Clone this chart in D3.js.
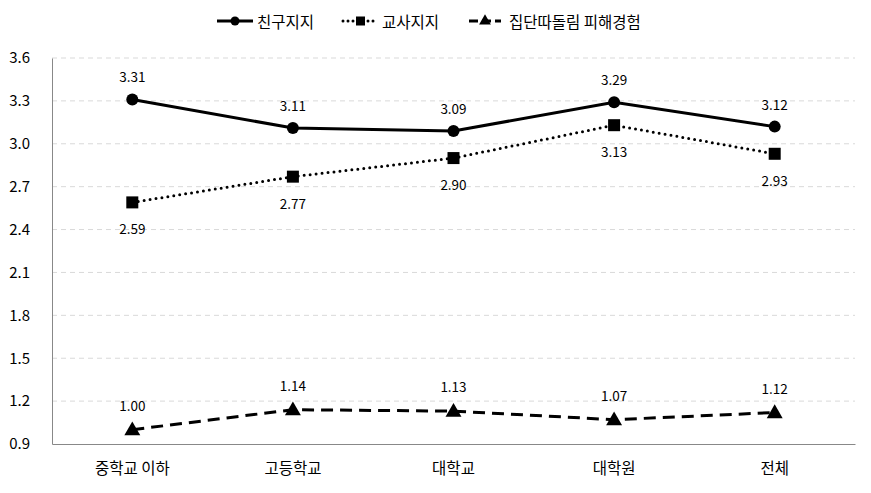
<!DOCTYPE html>
<html><head><meta charset="utf-8">
<script src="https://cdn.jsdelivr.net/npm/d3@7/dist/d3.min.js"></script>
<style>body{margin:0;background:#fff}svg{display:block}text{font-family:"Noto Sans CJK KR","Malgun Gothic",sans-serif;fill:#000}</style>
</head><body>
<script>
const categories = ["중학교 이하","고등학교","대학교","대학원","전체"];
const friendSupport = [3.31,3.11,3.09,3.29,3.12];
const teacherSupport = [2.59,2.77,2.90,3.13,2.93];
const bullying = [1.00,1.14,1.13,1.07,1.12];
const yTicks = [0.9,1.2,1.5,1.8,2.1,2.4,2.7,3.0,3.3,3.6];
const seriesNames = ["친구지지","교사지지","집단따돌림 피해경험"];

(function(){
const W=871,H=493;
const svg=d3.select("body").append("svg").attr("width",W).attr("height",H);
const mL=52,mR=855,mT=58,mB=444;
const x=d3.scaleBand().domain(categories).range([mL,mR]);
const y=d3.scaleLinear().domain([0.9,3.6]).range([mB,mT]);

svg.append("g").selectAll("line").data(yTicks.filter(d=>d>0.9)).join("line")
 .attr("x1",mL).attr("x2",mR).attr("y1",d=>y(d)).attr("y2",d=>y(d))
 .attr("stroke","#d9d9d9").attr("stroke-dasharray","5,4").attr("stroke-width",1);

const ya=d3.axisLeft(y).tickValues(yTicks).tickFormat(d3.format(".1f")).tickSize(0).tickPadding(22);
const yg=svg.append("g").attr("transform",`translate(${mL},0)`).call(ya);
yg.select(".domain").attr("stroke","#888");
yg.selectAll("text").style("font-size","15px");
const xa=d3.axisBottom(x).tickSize(0).tickPadding(19);
const xg=svg.append("g").attr("transform",`translate(0,${mB})`).call(xa);
xg.select(".domain").attr("stroke","#888");
xg.selectAll("text").style("font-size","15.5px");

const cx=d=>x(d)+x.bandwidth()/2;
const series=[
 {name:seriesNames[0],vals:friendSupport,dash:null,marker:"circle",lab:-23},
 {name:seriesNames[1],vals:teacherSupport,dash:"0,6",marker:"square",lab:26},
 {name:seriesNames[2],vals:bullying,dash:"12,7",marker:"triangle",lab:-25}
];
function marker(g,type,px,py){
 if(type==="circle") g.append("circle").attr("cx",px).attr("cy",py).attr("r",6).attr("fill","#000");
 else if(type==="square") g.append("rect").attr("x",px-6).attr("y",py-6).attr("width",12).attr("height",12).attr("fill","#000");
 else g.append("path").attr("d",d3.symbol(d3.symbolTriangle,110)()).attr("transform",`translate(${px},${py+1})`).attr("fill","#000");
}
const line=d3.line().x((d,i)=>cx(categories[i])).y(d=>y(d));
series.forEach(s=>{
 const p=svg.append("path").datum(s.vals).attr("d",line).attr("fill","none").attr("stroke","#000").attr("stroke-width",3);
 if(s.dash){p.attr("stroke-dasharray",s.dash);}
 if(s.marker==="square"){p.attr("stroke-linecap","round");}
 const g=svg.append("g");
 s.vals.forEach((v,i)=>{
  marker(g,s.marker,cx(categories[i]),y(v));
  g.append("text").attr("x",cx(categories[i])).attr("y",y(v)+s.lab).attr("text-anchor","middle")
   .attr("dominant-baseline","central").style("font-size","13.5px").text(d3.format(".2f")(v));
 });
});

const leg=[{x0:217,x1:253,tx:257},{x0:343,x1:378,tx:382},{x0:469,x1:501,tx:509}];
series.forEach((s,i)=>{
 const L=leg[i],ly=21;
 const p=svg.append("line").attr("x1",L.x0).attr("x2",L.x1).attr("y1",ly).attr("y2",ly).attr("stroke","#000").attr("stroke-width",3);
 if(s.dash){p.attr("stroke-dasharray",s.marker==="square"?"0,5":"9,4");}
 if(s.marker==="square") p.attr("stroke-linecap","round");
 const g=svg.append("g");
 const mx=(L.x0+L.x1)/2;
 if(s.marker==="circle") g.append("circle").attr("cx",mx).attr("cy",ly).attr("r",4.5).attr("fill","#000");
 else if(s.marker==="square") g.append("rect").attr("x",mx-4.5).attr("y",ly-4.5).attr("width",9).attr("height",9).attr("fill","#000");
 else g.append("path").attr("d",d3.symbol(d3.symbolTriangle,60)()).attr("transform",`translate(${mx},${ly})`).attr("fill","#000");
 svg.append("text").attr("x",L.tx).attr("y",ly).attr("dominant-baseline","central").style("font-size","15.5px").text(s.name);
});
})();
</script>
</body></html>
